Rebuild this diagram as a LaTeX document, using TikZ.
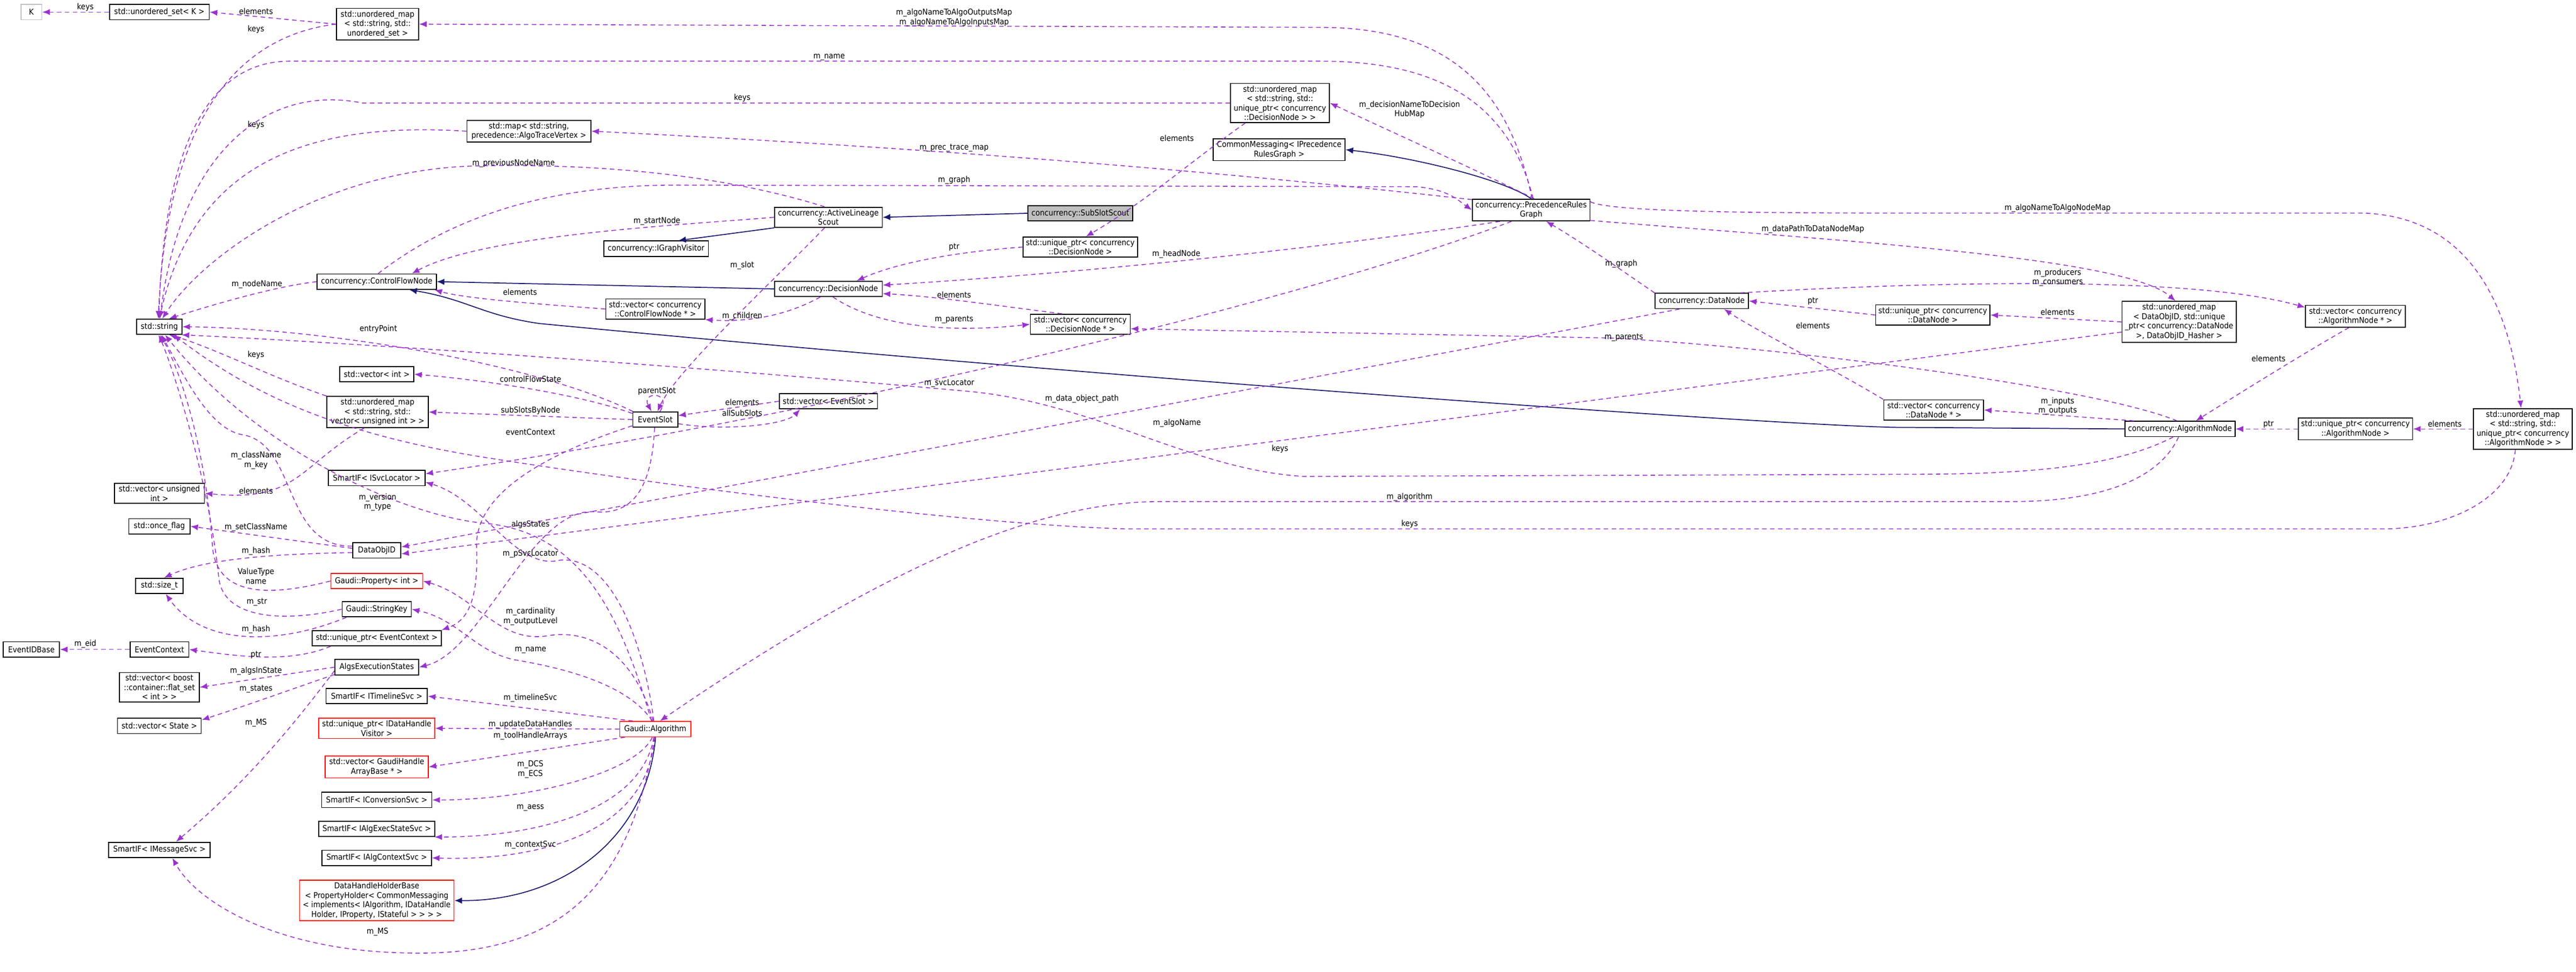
\documentclass[tikz,border=0pt]{standalone}
\usepackage{fontspec}
\setmainfont{DejaVu Sans Condensed}
\usetikzlibrary{arrows.meta}
\definecolor{memcol}{HTML}{9A32CD}
\definecolor{inhcol}{HTML}{191970}
\begin{document}
\begin{tikzpicture}[x=0.03cm,y=-0.03cm,
    every node/.style={font=\fontsize{4.3}{5}\selectfont},
    box/.style={draw, line width=0.5pt, fill=white, align=center, inner xsep=1pt, inner ysep=1.2pt,
      minimum height=9.5*0.03cm, minimum width=#1*0.03cm},
    redbox/.style={box=#1, draw=red},
    mem/.style={draw=memcol, dashed, dash pattern=on 2.4pt off 1.8pt, line width=0.45pt,
      -{Latex[length=4pt,width=3.2pt]}},
    inh/.style={draw=inhcol, line width=0.5pt, -{Latex[length=4pt,width=3.4pt]}},
    lbl/.style={inner sep=0.5pt, align=center}]
\useasboundingbox (0,0) rectangle (1600,603.7);
% classes, left column
\node[box=13, draw=lightgray] (K) at (19.5,7.5) {K};
\node[box=62] (uset) at (99,7.5) {std::unordered\_set< K >};
\node[box=51] (umapSet) at (234.5,15) {std::unordered\_map\\< std::string, std::\\unordered\_set >};
\node[box=77] (traceMap) at (328.5,81.5) {std::map< std::string,\\ precedence::AlgoTraceVertex >};
\node[box=74] (cfNode) at (234,175) {concurrency::ControlFlowNode};
\node[box=28] (str) at (99,203) {std::string};
\node[box=46] (vecInt) at (234,232.5) {std::vector< int >};
\node[box=63] (umapSub) at (234.5,256) {std::unordered\_map\\< std::string, std::\\vector< unsigned int > >};
\node[box=60] (svcLoc) at (234,297) {SmartIF< ISvcLocator >};
\node[box=56] (vecUns) at (99,306.5) {std::vector< unsigned\\ int >};
\node[box=38] (onceFlag) at (99,327) {std::once\_flag};
\node[box=30] (objID) at (234,342) {DataObjID};
\node[box=29.5] (sizeT) at (99,364) {std::size\_t};
\node[redbox=57] (propInt) at (234,361) {Gaudi::Property< int >};
\node[box=43] (strKey) at (234,378.5) {Gaudi::StringKey};
\node[box=80] (uptrCtx) at (234,396.5) {std::unique\_ptr< EventContext >};
\node[box=35] (eidBase) at (19.5,403.5) {EventIDBase};
\node[box=36.5] (evCtx) at (99,403.5) {EventContext};
\node[box=52] (aes) at (234,414.5) {AlgsExecutionStates};
\node[box=49.5] (vecFlat) at (99,427) {std::vector< boost\\ ::container::flat\_set\\< int > >};
\node[box=52] (vecState) at (99,451) {std::vector< State >};
\node[box=63] (timeline) at (234,432.5) {SmartIF< ITimelineSvc >};
\node[redbox=72] (uptrVis) at (234,452.5) {std::unique\_ptr< IDataHandle\\Visitor >};
\node[redbox=64] (vecHandle) at (234,476.5) {std::vector< GaudiHandle\\ArrayBase * >};
\node[box=68.5] (convSvc) at (234,497) {SmartIF< IConversionSvc >};
\node[box=72] (execSvc) at (234,515) {SmartIF< IAlgExecStateSvc >};
\node[box=68] (ctxSvc) at (234,533) {SmartIF< IAlgContextSvc >};
\node[redbox=96] (dhhb) at (234,559.5) {DataHandleHolderBase\\< PropertyHolder< CommonMessaging\\< implements< IAlgorithm, IDataHandle\\Holder, IProperty, IStateful > > > >};
\node[box=63] (msgSvc) at (99,528) {SmartIF< IMessageSvc >};
\node[redbox=44] (algo) at (407,453) {Gaudi::Algorithm};
% middle
\node[box=67] (scoutAL) at (514.5,135) {concurrency::ActiveLineage\\Scout};
\node[box=65] (visitor) at (407.5,154.5) {concurrency::IGraphVisitor};
\node[box=67] (decNode) at (514.5,179.5) {concurrency::DecisionNode};
\node[box=61.5] (vecCfn) at (407,192) {std::vector< concurrency\\ ::ControlFlowNode * >};
\node[box=65, fill=black!25] (subSlot) at (671,132.5) {concurrency::SubSlotScout};
\node[box=71] (uptrDec) at (671,153.5) {std::unique\_ptr< concurrency\\ ::DecisionNode >};
\node[box=62] (vecDec) at (671,201.5) {std::vector< concurrency\\ ::DecisionNode * >};
\node[box=61.5] (umapDec) at (795,64) {std::unordered\_map\\< std::string, std::\\unique\_ptr< concurrency\\ ::DecisionNode > >};
\node[box=82] (commMsg) at (794.5,93) {CommonMessaging< IPrecedence\\RulesGraph >};
\node[box=73] (rules) at (951,130.5) {concurrency::PrecedenceRules\\Graph};
\node[box=28] (evSlot) at (407,260.7) {EventSlot};
\node[box=61] (vecSlot) at (514.5,249.3) {std::vector< EventSlot >};
% right
\node[box=58] (dataNode) at (1057,187) {concurrency::DataNode};
\node[box=71] (uptrData) at (1200.5,195.7) {std::unique\_ptr< concurrency\\ ::DataNode >};
\node[box=71] (umapData) at (1353.5,200) {std::unordered\_map\\< DataObjID, std::unique\\\_ptr< concurrency::DataNode\\ >, DataObjID\_Hasher >};
\node[box=62] (vecAlgN) at (1463,196.5) {std::vector< concurrency\\ ::AlgorithmNode * >};
\node[box=62] (vecData) at (1201,254.7) {std::vector< concurrency\\ ::DataNode * >};
\node[box=68.5] (algNode) at (1354,266.5) {concurrency::AlgorithmNode};
\node[box=71] (uptrAlgN) at (1463,266.5) {std::unique\_ptr< concurrency\\ ::AlgorithmNode >};
\node[box=61.5] (umapAlgN) at (1567,266.5) {std::unordered\_map\\< std::string, std::\\unique\_ptr< concurrency\\ ::AlgorithmNode > >};

% inheritance
\draw[inh] (decNode.west) -- (cfNode.east);
\draw[inh] (algNode.west) -- (1177,265.5) .. controls (1100,264) and (700,236) .. (335,201) .. controls (300,196) and (290,186) .. (cfNode.-14);
\draw[inh] (rules.north) .. controls (935,112) and (880,98) .. (commMsg.east);
\draw[inh] (subSlot.west) -- (scoutAL.east);
\draw[inh] (scoutAL.south west) -- (visitor.20);
\draw[inh] (algo.-88) .. controls (402,520) and (350,560) .. (dhhb.east);

% members
\draw[mem] (uset) -- (K);
\draw[mem] (umapSet.west) -- (uset.east);
\draw[mem] (umapSet.west) .. controls (150,22) and (104,70) .. (str.98);
\draw[mem] (rules.85) .. controls (938,60) and (905,17) .. (820,17) -- (umapSet.east);
\draw[mem] (rules.80) .. controls (936,58) and (885,38) .. (820,38) -- (180,38) .. controls (130,38) and (102,90) .. (str.94);
\draw[mem] (traceMap.west) .. controls (200,76) and (122,95) .. (str.90);
\draw[mem] (umapDec.west) -- (225,64) .. controls (165,52) and (112,95) .. (str.86);
\draw[mem] (rules.170) .. controls (700,100) and (500,88) .. (traceMap.east);
\draw[mem] (scoutAL.110) .. controls (440,106) and (360,102) .. (300,103) .. controls (200,104) and (125,160) .. (str.70);
\draw[mem] (cfNode.80) .. controls (280,135) and (340,115) .. (420,115) -- (880,116) .. controls (900,118) and (905,124) .. (rules.west);
\draw[mem] (scoutAL.west) .. controls (420,140) and (300,146) .. (cfNode.13);
\draw[mem] (cfNode.west) .. controls (170,178) and (130,190) .. (str.40);
\draw[mem] (vecCfn.west) .. controls (350,190) and (290,186) .. (cfNode.-8);
\draw[mem] (decNode.-135) .. controls (485,198) and (460,200) .. (vecCfn.-12);
\draw[mem] (uptrDec.west) .. controls (600,156) and (560,162) .. (decNode.16);
\draw[mem] (rules.-160) .. controls (850,150) and (700,168) .. (decNode.4);
\draw[mem] (vecDec.150) .. controls (620,190) and (580,184) .. (decNode.-5);
\draw[mem] (decNode.-60) .. controls (540,200) and (580,208) .. (vecDec.west);
\draw[mem] (umapDec.-150) .. controls (740,100) and (712,125) .. (uptrDec.62);
\draw[mem] (rules.75) .. controls (905,100) and (860,80) .. (umapDec.east);
\draw[mem] (scoutAL.-110) .. controls (485,170) and (420,230) .. (evSlot.75);
\draw[mem] (evSlot.60) .. controls (418,243) and (398,243) .. (evSlot.115);
\draw[mem] (evSlot.165) .. controls (360,245) and (300,236) .. (vecInt.east);
\draw[mem] (evSlot.west) -- (umapSub.east);
\draw[mem] (evSlot.-165) .. controls (330,285) and (295,310) .. (296,340) .. controls (297,370) and (292,385) .. (uptrCtx.north east);
\draw[mem] (vecSlot.west) -- (evSlot.10);
\draw[mem] (evSlot.-10) .. controls (450,268) and (488,264) .. (vecSlot.-164);
\draw[mem] (evSlot.-95) .. controls (405,300) and (395,320) .. (370,318) .. controls (330,314) and (300,405) .. (aes.east);
\draw[mem] (evSlot.160) .. controls (330,225) and (200,204) .. (str.east);
\draw[mem] (umapSub.north west) .. controls (170,235) and (130,215) .. (str.-40);
\draw[mem] (umapSub.-130) .. controls (185,290) and (185,312) .. (vecUns.east);
\draw[mem] (objID.170) .. controls (175,340) and (185,275) .. (150,270) .. controls (130,266) and (115,235) .. (str.-75);
\draw[mem] (objID.175) -- (onceFlag.east);
\draw[mem] (objID.-175) .. controls (180,344) and (130,346) .. (sizeT.60);
\draw[mem] (propInt.west) .. controls (170,370) and (135,372) .. (132,340) .. controls (128,280) and (112,230) .. (str.-85);
\draw[mem] (strKey.west) .. controls (180,386) and (140,386) .. (136,360) .. controls (130,300) and (108,230) .. (str.-95);
\draw[mem] (strKey.-165) .. controls (170,402) and (125,400) .. (sizeT.-52);
\draw[mem] (evCtx.west) -- (eidBase.east);
\draw[mem] (uptrCtx.-170) .. controls (180,412) and (150,408) .. (evCtx.east);
\draw[mem] (aes.west) -- (vecFlat.east);
\draw[mem] (aes.-170) .. controls (190,425) and (160,436) .. (vecState.8);
\draw[mem] (aes.-175) .. controls (190,440) and (160,480) .. (msgSvc.26.6);
\draw[mem] (algo.-95) .. controls (390,560) and (340,595) .. (250,592) .. controls (170,590) and (122,560) .. (msgSvc.-32);
\draw[mem] (algo.160) -- (timeline.east);
\draw[mem] (algo.west) -- (uptrVis.east);
\draw[mem] (algo.-165) -- (vecHandle.east);
\draw[mem] (algo.-110) .. controls (395,480) and (330,497) .. (convSvc.east);
\draw[mem] (algo.-100) .. controls (398,505) and (330,520) .. (execSvc.-8);
\draw[mem] (algo.-96) .. controls (402,520) and (330,535) .. (ctxSvc.east);
\draw[mem] (algo.100) .. controls (400,400) and (380,345) .. (348,348) .. controls (320,355) and (300,310) .. (svcLoc.-5);
\draw[mem] (algo.105) .. controls (395,410) and (370,390) .. (340,395) .. controls (310,400) and (295,370) .. (propInt.east);
\draw[mem] (algo.110) .. controls (390,425) and (350,415) .. (320,410) .. controls (295,405) and (285,385) .. (strKey.east);
\draw[mem] (algo.115) .. controls (385,380) and (360,330) .. (300,325) .. controls (250,320) and (160,280) .. (str.-55);
\draw[mem] (rules.-150) .. controls (800,190) and (500,260) .. (svcLoc.5);
\draw[mem] (dataNode.-160) -- (objID.8);
\draw[mem] (umapData.-170) -- (objID.-8);
\draw[mem] (algNode.-130) .. controls (1310,292) and (1250,294.7) .. (1180,294.7) -- (810,296) .. controls (740,292) and (680,250) .. (600,243) .. controls (400,225) and (200,212) .. (str.-20);
\draw[mem] (algNode.-100) .. controls (1340,300) and (1300,311.6) .. (1250,311.6) -- (720,311.6) .. controls (650,312) and (560,345) .. (algo.60);
\draw[mem] (umapAlgN.-110) .. controls (1560,310) and (1520,328.6) .. (1480,328.6) -- (700,328.6) .. controls (600,326) and (400,300) .. (300,284) .. controls (200,268) and (150,240) .. (str.-30);
\draw[mem] (algNode.110) .. controls (1300,240) and (1100,215) .. (1000,210) -- (vecDec.-5);
\draw[mem] (dataNode.north west) .. controls (1010,170) and (985,152) .. (rules.-37);
\draw[mem] (dataNode.12) .. controls (1150,178) and (1350,168) .. (vecAlgN.170);
\draw[mem] (rules.-10) .. controls (1150,150) and (1320,160) .. (umapData.100);
\draw[mem] (rules.8) .. controls (1000,132) and (1100,132.4) .. (1200,132.4) -- (1468,132.4) .. controls (1540,135) and (1560,200) .. (umapAlgN.95);
\draw[mem] (uptrData.west) -- (dataNode.east);
\draw[mem] (umapData.west) -- (uptrData.east);
\draw[mem] (vecData.north west) .. controls (1140,230) and (1090,205) .. (dataNode.-20);
\draw[mem] (vecAlgN.-120) .. controls (1430,220) and (1390,245) .. (algNode.27);
\draw[mem] (algNode.170) -- (vecData.east);
\draw[mem] (uptrAlgN.west) -- (algNode.east);
\draw[mem] (umapAlgN.west) -- (uptrAlgN.east);

% labels
\node[lbl] (lKeysK) at (53,4.5) {keys};
\node[lbl] (lElSet) at (159,7) {elements};
\node[lbl] (lKeysSet) at (159,18.4) {keys};
\node[lbl] (lAlgoIO) at (592.6,11) {m\_algoNameToAlgoOutputsMap\\m\_algoNameToAlgoInputsMap};
\node[lbl] (lName) at (515,35.5) {m\_name};
\node[lbl] (lKeysDec) at (461,61) {keys};
\node[lbl] (lKeysTrace) at (159,77.5) {keys};
\node[lbl] (lTrace) at (592.6,92) {m\_prec\_trace\_map};
\node[lbl] (lPrev) at (319,101.5) {m\_previousNodeName};
\node[lbl] (lGraph) at (592.6,112) {m\_graph};
\node[lbl] (lStart) at (408,137.4) {m\_startNode};
\node[lbl] (lNodeName) at (159.6,176.6) {m\_nodeName};
\node[lbl] (lElCfn) at (323,181.5) {elements};
\node[lbl] (lChild) at (461,196.6) {m\_children};
\node[lbl] (lPtrDec) at (592.6,153.7) {ptr};
\node[lbl] (lHead) at (730.6,158) {m\_headNode};
\node[lbl] (lElDec) at (592.6,183) {elements};
\node[lbl] (lParDec) at (592.6,198.7) {m\_parents};
\node[lbl] (lElUDec) at (731,86) {elements};
\node[lbl] (lHub) at (875.5,68) {m\_decisionNameToDecision\\HubMap};
\node[lbl] (lSlot) at (461,165) {m\_slot};
\node[lbl] (lParent) at (408,243) {parentSlot};
\node[lbl] (lCfs) at (329.5,235.6) {controlFlowState};
\node[lbl] (lSub) at (329.5,255) {subSlotsByNode};
\node[lbl] (lCtx) at (329.5,268.5) {eventContext};
\node[lbl] (lElSlot) at (461,250) {elements};
\node[lbl] (lAllSub) at (461,256.6) {allSubSlots};
\node[lbl] (lStates) at (329.5,326) {algsStates};
\node[lbl] (lEntry) at (235,204.3) {entryPoint};
\node[lbl] (lKeysSub) at (159,220.5) {keys};
\node[lbl] (lElUns) at (159,305) {elements};
\node[lbl] (lClass) at (159,286) {m\_className\\m\_key};
\node[lbl] (lSetClass) at (159,327.5) {m\_setClassName};
\node[lbl] (lHash1) at (159,342.3) {m\_hash};
\node[lbl] (lValue) at (159,358) {ValueType\\name};
\node[lbl] (lStr) at (159.5,374) {m\_str};
\node[lbl] (lHash2) at (159,391) {m\_hash};
\node[lbl] (lEid) at (53,400) {m\_eid};
\node[lbl] (lPtrCtx) at (159,407) {ptr};
\node[lbl] (lInState) at (159,417) {m\_algsInState};
\node[lbl] (lStatesV) at (159,428) {m\_states};
\node[lbl] (lMS1) at (159,449) {m\_MS};
\node[lbl] (lMS2) at (234.5,579) {m\_MS};
\node[lbl] (lTime) at (329.4,433.8) {m\_timelineSvc};
\node[lbl] (lUpd) at (329.4,450.2) {m\_updateDataHandles};
\node[lbl] (lTool) at (329.4,457.3) {m\_toolHandleArrays};
\node[lbl] (lDcs) at (329.4,478) {m\_DCS\\m\_ECS};
\node[lbl] (lAess) at (329.4,502) {m\_aess};
\node[lbl] (lCtxSvc) at (329.4,525) {m\_contextSvc};
\node[lbl] (lPSvc) at (329.5,344) {m\_pSvcLocator};
\node[lbl] (lCard) at (329.5,383) {m\_cardinality\\m\_outputLevel};
\node[lbl] (lNameA) at (329.5,404) {m\_name};
\node[lbl] (lVer) at (234.5,312) {m\_version\\m\_type};
\node[lbl] (lSvc) at (589.6,238) {m\_svcLocator};
\node[lbl] (lPath) at (672,247.7) {m\_data\_object\_path};
\node[lbl] (lAlgoName) at (731,262.8) {m\_algoName};
\node[lbl] (lKeysObj) at (795,279) {keys};
\node[lbl] (lAlgo) at (875.5,308.8) {m\_algorithm};
\node[lbl] (lKeysAlgN) at (875.5,325.5) {keys};
\node[lbl] (lParAN) at (1008.6,209.6) {m\_parents};
\node[lbl] (lGraphD) at (1007,164) {m\_graph};
\node[lbl] (lPathMap) at (1126,142.3) {m\_dataPathToDataNodeMap};
\node[lbl] (lAlgoMap) at (1278,129.4) {m\_algoNameToAlgoNodeMap};
\node[lbl] (lProd) at (1278,172.5) {m\_producers\\m\_consumers};
\node[lbl] (lPtrData) at (1126,187) {ptr};
\node[lbl] (lElData) at (1278,194) {elements};
\node[lbl] (lElVData) at (1126,202.4) {elements};
\node[lbl] (lElAlgN) at (1409,222.8) {elements};
\node[lbl] (lInOut) at (1278,252.4) {m\_inputs\\m\_outputs};
\node[lbl] (lPtrAlgN) at (1409,263.5) {ptr};
\node[lbl] (lElUAlgN) at (1518.5,263.5) {elements};
\end{tikzpicture}
\end{document}
